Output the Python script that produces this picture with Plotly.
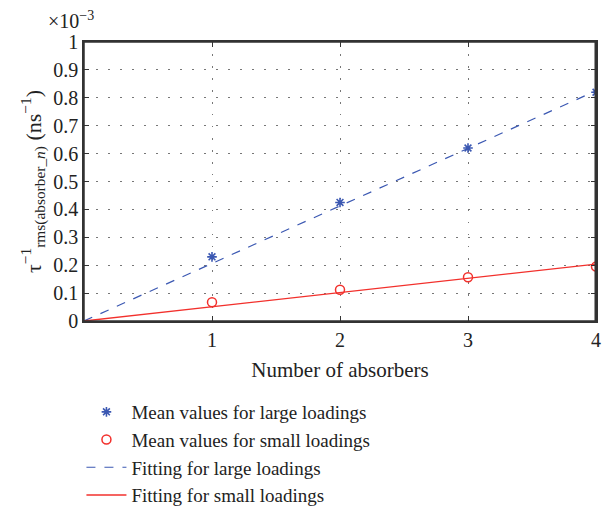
import plotly.graph_objects as go

absorbers = [1, 2, 3, 4]
mean_large = [0.230, 0.425, 0.620, 0.820]
mean_small = [0.067, 0.112, 0.157, 0.195]
fit_x = [0, 4]
fit_large = [0.0, 0.825]
fit_small = [0.0, 0.204]
y_ticks = [0, 0.1, 0.2, 0.3, 0.4, 0.5, 0.6, 0.7, 0.8, 0.9, 1]
y_tick_labels = ["0", "0.1", "0.2", "0.3", "0.4", "0.5", "0.6", "0.7", "0.8", "0.9", "1"]
x_ticks = [1, 2, 3, 4]

blue = "#3b58b2"
red = "#f2302c"
font = "Liberation Serif"
txt = "#222222"

fig = go.Figure()
fig.add_trace(go.Scatter(x=absorbers, y=mean_large, mode="markers",
                         name="Mean values for large loadings",
                         marker=dict(symbol="asterisk", size=8, color=blue,
                                     line=dict(color=blue, width=1.6))))
fig.add_trace(go.Scatter(x=absorbers, y=mean_small, mode="markers",
                         name="Mean values for small loadings",
                         marker=dict(symbol="circle-open", size=9, color=red,
                                     line=dict(color=red, width=1.5))))
fig.add_trace(go.Scatter(x=fit_x, y=fit_large, mode="lines",
                         name="Fitting for large loadings",
                         line=dict(color=blue, width=1.2, dash="dash")))
fig.add_trace(go.Scatter(x=fit_x, y=fit_small, mode="lines",
                         name="Fitting for small loadings",
                         line=dict(color=red, width=1.4)))

axis_common = dict(showline=True, linecolor="#333333", linewidth=1.5, mirror="ticks",
                   ticks="inside", ticklen=5, tickcolor="#333333", automargin=False,
                   showgrid=True, gridcolor="#777777", griddash="1.5px,10.5px", gridwidth=1.2,
                   zeroline=False, tickfont=dict(family=font, size=20, color=txt))

fig.update_layout(
    width=596, height=511,
    margin=dict(l=76, r=8, t=34, b=198, autoexpand=False),
    plot_bgcolor="white", paper_bgcolor="white",
    font=dict(family=font, size=20, color=txt),
    xaxis=dict(range=[0, 4], tickvals=x_ticks,
               title=dict(text="Number of absorbers", font=dict(family=font, size=21), standoff=13),
               **axis_common),
    yaxis=dict(range=[0, 1], tickvals=y_ticks, ticktext=y_tick_labels,
               title=dict(text="τ<sup>−1</sup><sub>rms(absorber_<i>n</i>)</sub> (ns<sup>−1</sup>)",
                          font=dict(family=font, size=22), standoff=6),
               **axis_common),
    legend=dict(x=-0.005, y=0.2466, xref="paper", yref="container", xanchor="left", yanchor="top",
                font=dict(family=font, size=19, color=txt),
                bgcolor="rgba(0,0,0,0)", tracegroupgap=0, itemwidth=40),
    showlegend=True,
)
fig.add_shape(type="rect", xref="paper", yref="paper", x0=0, x1=1, y0=0, y1=1,
              line=dict(color="#333333", width=1.5), layer="above")
fig.add_shape(type="line", xref="paper", yref="paper", x0=0.999, x1=0.999, y0=0, y1=1,
              line=dict(color="#333333", width=2), layer="above")
fig.add_annotation(text="×10<sup>−3</sup>", xref="paper", yref="paper", x=-0.075, y=1.0,
                   xanchor="left", yanchor="bottom", yshift=8, showarrow=False,
                   font=dict(family=font, size=20, color=txt))

fig.write_html("out.html")
